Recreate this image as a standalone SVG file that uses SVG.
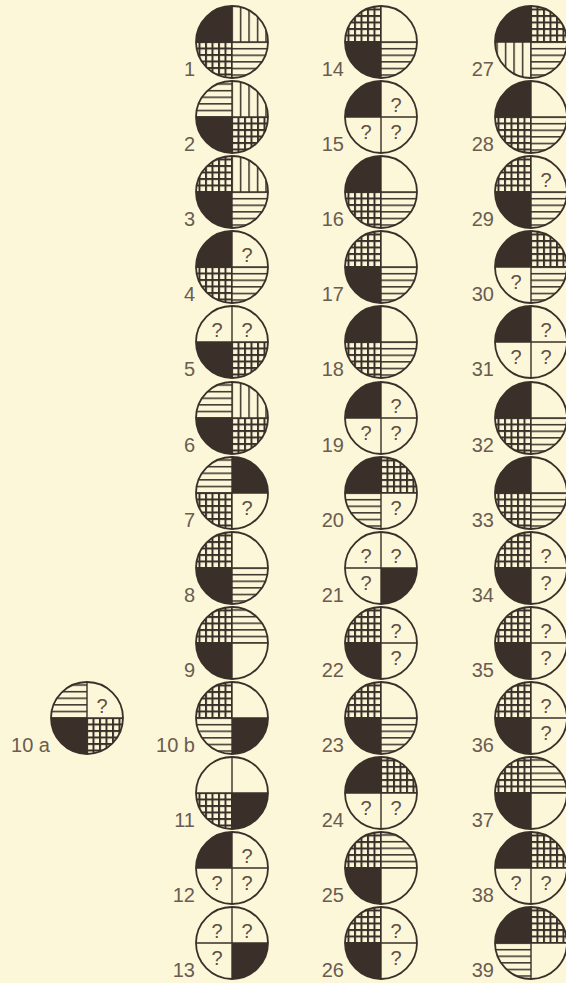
<svg xmlns="http://www.w3.org/2000/svg" xmlns:xlink="http://www.w3.org/1999/xlink" width="566" height="983" viewBox="0 0 566 983">
<style>
.b{fill:#3a3029}
.g{fill:url(#grid)}
.h{fill:url(#hz)}
.v{fill:url(#vt)}
.fr{fill:none;stroke:#3a3029;stroke-width:1.8}
.dv{fill:none;stroke:#3a3029;stroke-width:1.4}
.q{font-family:"Liberation Sans",Arial,sans-serif;font-size:20px;fill:#5e5044;text-anchor:middle}
.lb{font-family:"Liberation Sans",Arial,sans-serif;font-size:20px;fill:#6a5c50;text-anchor:end}
</style>
<defs>
<pattern id="grid" patternUnits="userSpaceOnUse" width="6.5" height="6.5" x="-1" y="-1">
<rect width="6.5" height="2" fill="#3a3029"/><rect width="2" height="6.5" fill="#3a3029"/>
</pattern>
<pattern id="hz" patternUnits="userSpaceOnUse" width="10" height="6.6" x="0" y="-0.7">
<rect width="10" height="1.5" fill="#3a3029"/>
</pattern>
<pattern id="vt" patternUnits="userSpaceOnUse" width="8.5" height="10" x="-0.7" y="0">
<rect width="1.5" height="10" fill="#3a3029"/>
</pattern>
<path id="TL" d="M0,0H-36A36,36 0 0 1 0,-36Z"/>
<path id="TR" d="M0,0V-36A36,36 0 0 1 36,0Z"/>
<path id="BR" d="M0,0H36A36,36 0 0 1 0,36Z"/>
<path id="BL" d="M0,0V36A36,36 0 0 1 -36,0Z"/>
<g id="frame"><circle r="36" class="fr"/><path d="M-36,0H36M0,-36V36" class="dv"/></g>
</defs>
<rect width="566" height="983" fill="#fdf7da"/>

<g id="n10a" transform="translate(87,718)"><use href="#TL" class="h"/><text class="q" x="15" y="-5">?</text><use href="#BL" class="b"/><use href="#BR" class="g"/><use href="#frame"/><text class="lb" x="-37" y="34">10 a</text></g>

<g id="n1" transform="translate(232,42)"><use href="#TL" class="b"/><use href="#TR" class="v"/><use href="#BL" class="g"/><use href="#BR" class="h"/><use href="#frame"/><text class="lb" x="-37" y="34">1</text></g>
<g id="n2" transform="translate(232,117)"><use href="#TL" class="h"/><use href="#TR" class="v"/><use href="#BL" class="b"/><use href="#BR" class="g"/><use href="#frame"/><text class="lb" x="-37" y="34">2</text></g>
<g id="n3" transform="translate(232,192)"><use href="#TL" class="g"/><use href="#TR" class="v"/><use href="#BL" class="b"/><use href="#BR" class="h"/><use href="#frame"/><text class="lb" x="-37" y="34">3</text></g>
<g id="n4" transform="translate(232,267)"><use href="#TL" class="b"/><text class="q" x="15" y="-5">?</text><use href="#BL" class="g"/><use href="#BR" class="h"/><use href="#frame"/><text class="lb" x="-37" y="34">4</text></g>
<g id="n5" transform="translate(232,342)"><text class="q" x="-15" y="-5">?</text><text class="q" x="15" y="-5">?</text><use href="#BL" class="b"/><use href="#BR" class="g"/><use href="#frame"/><text class="lb" x="-37" y="34">5</text></g>
<g id="n6" transform="translate(232,418)"><use href="#TL" class="h"/><use href="#TR" class="v"/><use href="#BL" class="b"/><use href="#BR" class="g"/><use href="#frame"/><text class="lb" x="-37" y="34">6</text></g>
<g id="n7" transform="translate(232,493)"><use href="#TL" class="h"/><use href="#TR" class="b"/><use href="#BL" class="g"/><text class="q" x="15" y="22">?</text><use href="#frame"/><text class="lb" x="-37" y="34">7</text></g>
<g id="n8" transform="translate(232,568)"><use href="#TL" class="g"/><use href="#BL" class="b"/><use href="#BR" class="h"/><use href="#frame"/><text class="lb" x="-37" y="34">8</text></g>
<g id="n9" transform="translate(232,643)"><use href="#TL" class="g"/><use href="#TR" class="h"/><use href="#BL" class="b"/><use href="#frame"/><text class="lb" x="-37" y="34">9</text></g>
<g id="n10b" transform="translate(232,718)"><use href="#TL" class="g"/><use href="#BL" class="h"/><use href="#BR" class="b"/><use href="#frame"/><text class="lb" x="-37" y="34">10 b</text></g>
<g id="n11" transform="translate(232,793)"><use href="#BL" class="g"/><use href="#BR" class="b"/><use href="#frame"/><text class="lb" x="-37" y="34">11</text></g>
<g id="n12" transform="translate(232,868)"><use href="#TL" class="b"/><text class="q" x="15" y="-5">?</text><text class="q" x="-15" y="22">?</text><text class="q" x="15" y="22">?</text><use href="#frame"/><text class="lb" x="-37" y="34">12</text></g>
<g id="n13" transform="translate(232,943)"><text class="q" x="-15" y="-5">?</text><text class="q" x="15" y="-5">?</text><text class="q" x="-15" y="22">?</text><use href="#BR" class="b"/><use href="#frame"/><text class="lb" x="-37" y="34">13</text></g>

<g id="n14" transform="translate(381,42)"><use href="#TL" class="g"/><use href="#BL" class="b"/><use href="#BR" class="h"/><use href="#frame"/><text class="lb" x="-37" y="34">14</text></g>
<g id="n15" transform="translate(381,117)"><use href="#TL" class="b"/><text class="q" x="15" y="-5">?</text><text class="q" x="-15" y="22">?</text><text class="q" x="15" y="22">?</text><use href="#frame"/><text class="lb" x="-37" y="34">15</text></g>
<g id="n16" transform="translate(381,192)"><use href="#TL" class="b"/><use href="#BL" class="g"/><use href="#BR" class="h"/><use href="#frame"/><text class="lb" x="-37" y="34">16</text></g>
<g id="n17" transform="translate(381,267)"><use href="#TL" class="g"/><use href="#BL" class="b"/><use href="#BR" class="h"/><use href="#frame"/><text class="lb" x="-37" y="34">17</text></g>
<g id="n18" transform="translate(381,342)"><use href="#TL" class="b"/><use href="#BL" class="g"/><use href="#BR" class="h"/><use href="#frame"/><text class="lb" x="-37" y="34">18</text></g>
<g id="n19" transform="translate(381,418)"><use href="#TL" class="b"/><text class="q" x="15" y="-5">?</text><text class="q" x="-15" y="22">?</text><text class="q" x="15" y="22">?</text><use href="#frame"/><text class="lb" x="-37" y="34">19</text></g>
<g id="n20" transform="translate(381,493)"><use href="#TL" class="b"/><use href="#TR" class="g"/><use href="#BL" class="h"/><text class="q" x="15" y="22">?</text><use href="#frame"/><text class="lb" x="-37" y="34">20</text></g>
<g id="n21" transform="translate(381,568)"><text class="q" x="-15" y="-5">?</text><text class="q" x="15" y="-5">?</text><text class="q" x="-15" y="22">?</text><use href="#BR" class="b"/><use href="#frame"/><text class="lb" x="-37" y="34">21</text></g>
<g id="n22" transform="translate(381,643)"><use href="#TL" class="g"/><text class="q" x="15" y="-5">?</text><use href="#BL" class="b"/><text class="q" x="15" y="22">?</text><use href="#frame"/><text class="lb" x="-37" y="34">22</text></g>
<g id="n23" transform="translate(381,718)"><use href="#TL" class="g"/><use href="#BL" class="b"/><use href="#BR" class="h"/><use href="#frame"/><text class="lb" x="-37" y="34">23</text></g>
<g id="n24" transform="translate(381,793)"><use href="#TL" class="b"/><use href="#TR" class="g"/><text class="q" x="-15" y="22">?</text><text class="q" x="15" y="22">?</text><use href="#frame"/><text class="lb" x="-37" y="34">24</text></g>
<g id="n25" transform="translate(381,868)"><use href="#TL" class="g"/><use href="#TR" class="h"/><use href="#BL" class="b"/><use href="#frame"/><text class="lb" x="-37" y="34">25</text></g>
<g id="n26" transform="translate(381,943)"><use href="#TL" class="g"/><text class="q" x="15" y="-5">?</text><use href="#BL" class="b"/><text class="q" x="15" y="22">?</text><use href="#frame"/><text class="lb" x="-37" y="34">26</text></g>

<g id="n27" transform="translate(531,42)"><use href="#TL" class="b"/><use href="#TR" class="g"/><use href="#BL" class="v"/><use href="#BR" class="h"/><use href="#frame"/><text class="lb" x="-37" y="34">27</text></g>
<g id="n28" transform="translate(531,117)"><use href="#TL" class="b"/><use href="#BL" class="g"/><use href="#BR" class="h"/><use href="#frame"/><text class="lb" x="-37" y="34">28</text></g>
<g id="n29" transform="translate(531,192)"><use href="#TL" class="g"/><text class="q" x="15" y="-5">?</text><use href="#BL" class="b"/><use href="#BR" class="h"/><use href="#frame"/><text class="lb" x="-37" y="34">29</text></g>
<g id="n30" transform="translate(531,267)"><use href="#TL" class="b"/><use href="#TR" class="g"/><text class="q" x="-15" y="22">?</text><use href="#BR" class="h"/><use href="#frame"/><text class="lb" x="-37" y="34">30</text></g>
<g id="n31" transform="translate(531,342)"><use href="#TL" class="b"/><text class="q" x="15" y="-5">?</text><text class="q" x="-15" y="22">?</text><text class="q" x="15" y="22">?</text><use href="#frame"/><text class="lb" x="-37" y="34">31</text></g>
<g id="n32" transform="translate(531,418)"><use href="#TL" class="b"/><use href="#BL" class="g"/><use href="#BR" class="h"/><use href="#frame"/><text class="lb" x="-37" y="34">32</text></g>
<g id="n33" transform="translate(531,493)"><use href="#TL" class="b"/><use href="#BL" class="g"/><use href="#BR" class="h"/><use href="#frame"/><text class="lb" x="-37" y="34">33</text></g>
<g id="n34" transform="translate(531,568)"><use href="#TL" class="g"/><text class="q" x="15" y="-5">?</text><use href="#BL" class="b"/><text class="q" x="15" y="22">?</text><use href="#frame"/><text class="lb" x="-37" y="34">34</text></g>
<g id="n35" transform="translate(531,643)"><use href="#TL" class="g"/><text class="q" x="15" y="-5">?</text><use href="#BL" class="b"/><text class="q" x="15" y="22">?</text><use href="#frame"/><text class="lb" x="-37" y="34">35</text></g>
<g id="n36" transform="translate(531,718)"><use href="#TL" class="g"/><text class="q" x="15" y="-5">?</text><use href="#BL" class="b"/><text class="q" x="15" y="22">?</text><use href="#frame"/><text class="lb" x="-37" y="34">36</text></g>
<g id="n37" transform="translate(531,793)"><use href="#TL" class="g"/><use href="#TR" class="h"/><use href="#BL" class="b"/><use href="#frame"/><text class="lb" x="-37" y="34">37</text></g>
<g id="n38" transform="translate(531,868)"><use href="#TL" class="b"/><use href="#TR" class="g"/><text class="q" x="-15" y="22">?</text><text class="q" x="15" y="22">?</text><use href="#frame"/><text class="lb" x="-37" y="34">38</text></g>
<g id="n39" transform="translate(531,943)"><use href="#TL" class="b"/><use href="#TR" class="g"/><use href="#BL" class="h"/><use href="#frame"/><text class="lb" x="-37" y="34">39</text></g>

<g id="connectors"/>
</svg>
